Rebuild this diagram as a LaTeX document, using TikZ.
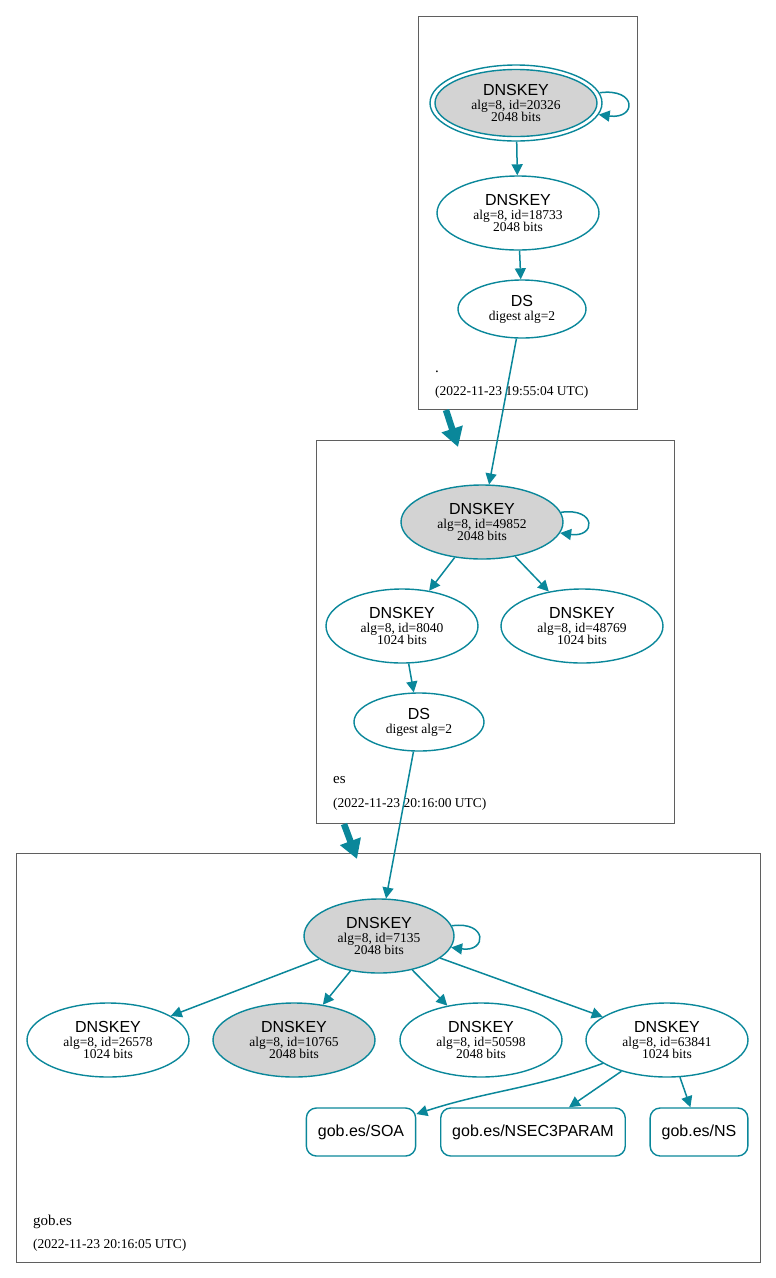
\documentclass[tikz,border=0pt]{standalone}
\usepackage{fontspec}
\setmainfont{Liberation Serif}
\newfontfamily\keyfam{Liberation Sans}
\usepackage{xcolor}
\usetikzlibrary{arrows.meta,shapes.geometric}

\definecolor{secure}{HTML}{0A879A}
\definecolor{kskgray}{HTML}{D3D3D3}
\definecolor{zonegray}{HTML}{5F5F5F}

\newcommand{\rrtype}[1]{{\keyfam\fontsize{16}{16}\selectfont #1}}

\begin{document}
\begin{tikzpicture}[x=1pt,y=-1pt,
      zonebox/.style={draw=zonegray, line width=0.9pt},
      zonename/.style={anchor=base west, inner sep=0pt, font={\fontsize{15}{16}\selectfont}},
      zonedate/.style={anchor=base west, inner sep=0pt, font={\fontsize{13.5}{14}\selectfont}},
      keynode/.style={ellipse, draw=secure, line width=1.4pt, align=center, inner sep=0pt,
        minimum width=162pt, minimum height=74pt, font={\fontsize{13.5}{12.5}\selectfont}},
      ksk/.style={keynode, fill=kskgray},
      dsnode/.style={keynode, minimum width=128pt, minimum height=58pt},
      rrnode/.style={rectangle, rounded corners=10pt, draw=secure, line width=1.4pt,
        minimum height=48pt, inner xsep=11.5pt, font={\keyfam\fontsize{16}{16}\selectfont}},
      secedge/.style={draw=secure, line width=1.5pt, -{Triangle[length=11pt,width=11pt]}},
      delegation/.style={draw=secure, line width=6.5pt, -{Triangle[length=19pt,width=21pt]}}]

    \useasboundingbox (0,0) rectangle (776,1278);

    %draw zone boxes and labels
    \draw[zonebox] (418,16) rectangle (637,409);
    \draw[zonebox] (316,440) rectangle (674,823);
    \draw[zonebox] (16,853) rectangle (760,1262);

    \node[zonename] (rootname) at (435,372) {.};
    \node[zonedate] (rootdate) at (435,395) {(2022-11-23 19:55:04 UTC)};
    \node[zonename] (esname) at (333,783) {es};
    \node[zonedate] (esdate) at (333,807) {(2022-11-23 20:16:00 UTC)};
    \node[zonename] (gobname) at (33,1225) {gob.es};
    \node[zonedate] (gobdate) at (33,1248) {(2022-11-23 20:16:05 UTC)};

    %draw root zone
    \node[keynode, minimum width=172pt, minimum height=76pt] (k20326o) at (516,103) {};
    \node[ksk, minimum height=67pt] (k20326) at (516,103) {\rrtype{DNSKEY}\\[1.5pt] alg=8, id=20326\\ 2048 bits};
    \node[keynode] (k18733) at (518,213) {\rrtype{DNSKEY}\\[1.5pt] alg=8, id=18733\\ 2048 bits};
    \node[dsnode] (dsroot) at (522,309) {\rrtype{DS}\\[1.5pt] digest alg=2};

    \draw[secedge] (k20326o.7) .. controls +(38,-5) and +(38,5) .. (k20326o.-8);
    \draw[secedge] (k20326o) -- (k18733);
    \draw[secedge] (k18733) -- (dsroot);

    %draw es zone
    \node[ksk] (k49852) at (482,522) {\rrtype{DNSKEY}\\[1.5pt] alg=8, id=49852\\ 2048 bits};
    \node[keynode, minimum width=152pt] (k8040) at (402,626) {\rrtype{DNSKEY}\\[1.5pt] alg=8, id=8040\\ 1024 bits};
    \node[keynode] (k48769) at (582,626) {\rrtype{DNSKEY}\\[1.5pt] alg=8, id=48769\\ 1024 bits};
    \node[dsnode, minimum width=130pt] (dses) at (419,722) {\rrtype{DS}\\[1.5pt] digest alg=2};

    \draw[secedge] (dsroot) -- (k49852);
    \draw[secedge] (k49852.7) .. controls +(36,-5) and +(36,5) .. (k49852.-8);
    \draw[secedge] (k49852) -- (k8040);
    \draw[secedge] (k49852) -- (k48769);
    \draw[secedge] (k8040) -- (dses);

    %draw gob.es zone
    \node[ksk, minimum width=150pt] (k7135) at (379,936) {\rrtype{DNSKEY}\\[1.5pt] alg=8, id=7135\\ 2048 bits};
    \node[keynode] (k26578) at (108,1040) {\rrtype{DNSKEY}\\[1.5pt] alg=8, id=26578\\ 1024 bits};
    \node[ksk] (k10765) at (294,1040) {\rrtype{DNSKEY}\\[1.5pt] alg=8, id=10765\\ 2048 bits};
    \node[keynode] (k50598) at (481,1040) {\rrtype{DNSKEY}\\[1.5pt] alg=8, id=50598\\ 2048 bits};
    \node[keynode] (k63841) at (667,1040) {\rrtype{DNSKEY}\\[1.5pt] alg=8, id=63841\\ 1024 bits};

    \node[rrnode] (soa) at (361,1132) {gob.es/SOA};
    \node[rrnode] (nsec3param) at (533,1132) {gob.es/NSEC3PARAM};
    \node[rrnode] (ns) at (699,1132) {gob.es/NS};

    \draw[secedge] (dses) -- (k7135);
    \draw[secedge] (k7135.8) .. controls +(36,-5) and +(36,5) .. (k7135.-9);
    \draw[secedge] (k7135) -- (k26578);
    \draw[secedge] (k7135) -- (k10765);
    \draw[secedge] (k7135) -- (k50598);
    \draw[secedge] (k7135) -- (k63841);
    \draw[secedge] (k63841) to[out=200,in=18] (soa);
    \draw[secedge] (k63841) -- (nsec3param);
    \draw[secedge] (k63841) -- (ns);

    %draw delegation arrows
    \coordinate (rootcut) at (446,410);
    \coordinate (esin) at (458,447);
    \coordinate (escut) at (344,824);
    \coordinate (gobin) at (357,859);
    \draw[delegation] (rootcut) -- (esin);
    \draw[delegation] (escut) -- (gobin);

  \end{tikzpicture}
\end{document}
